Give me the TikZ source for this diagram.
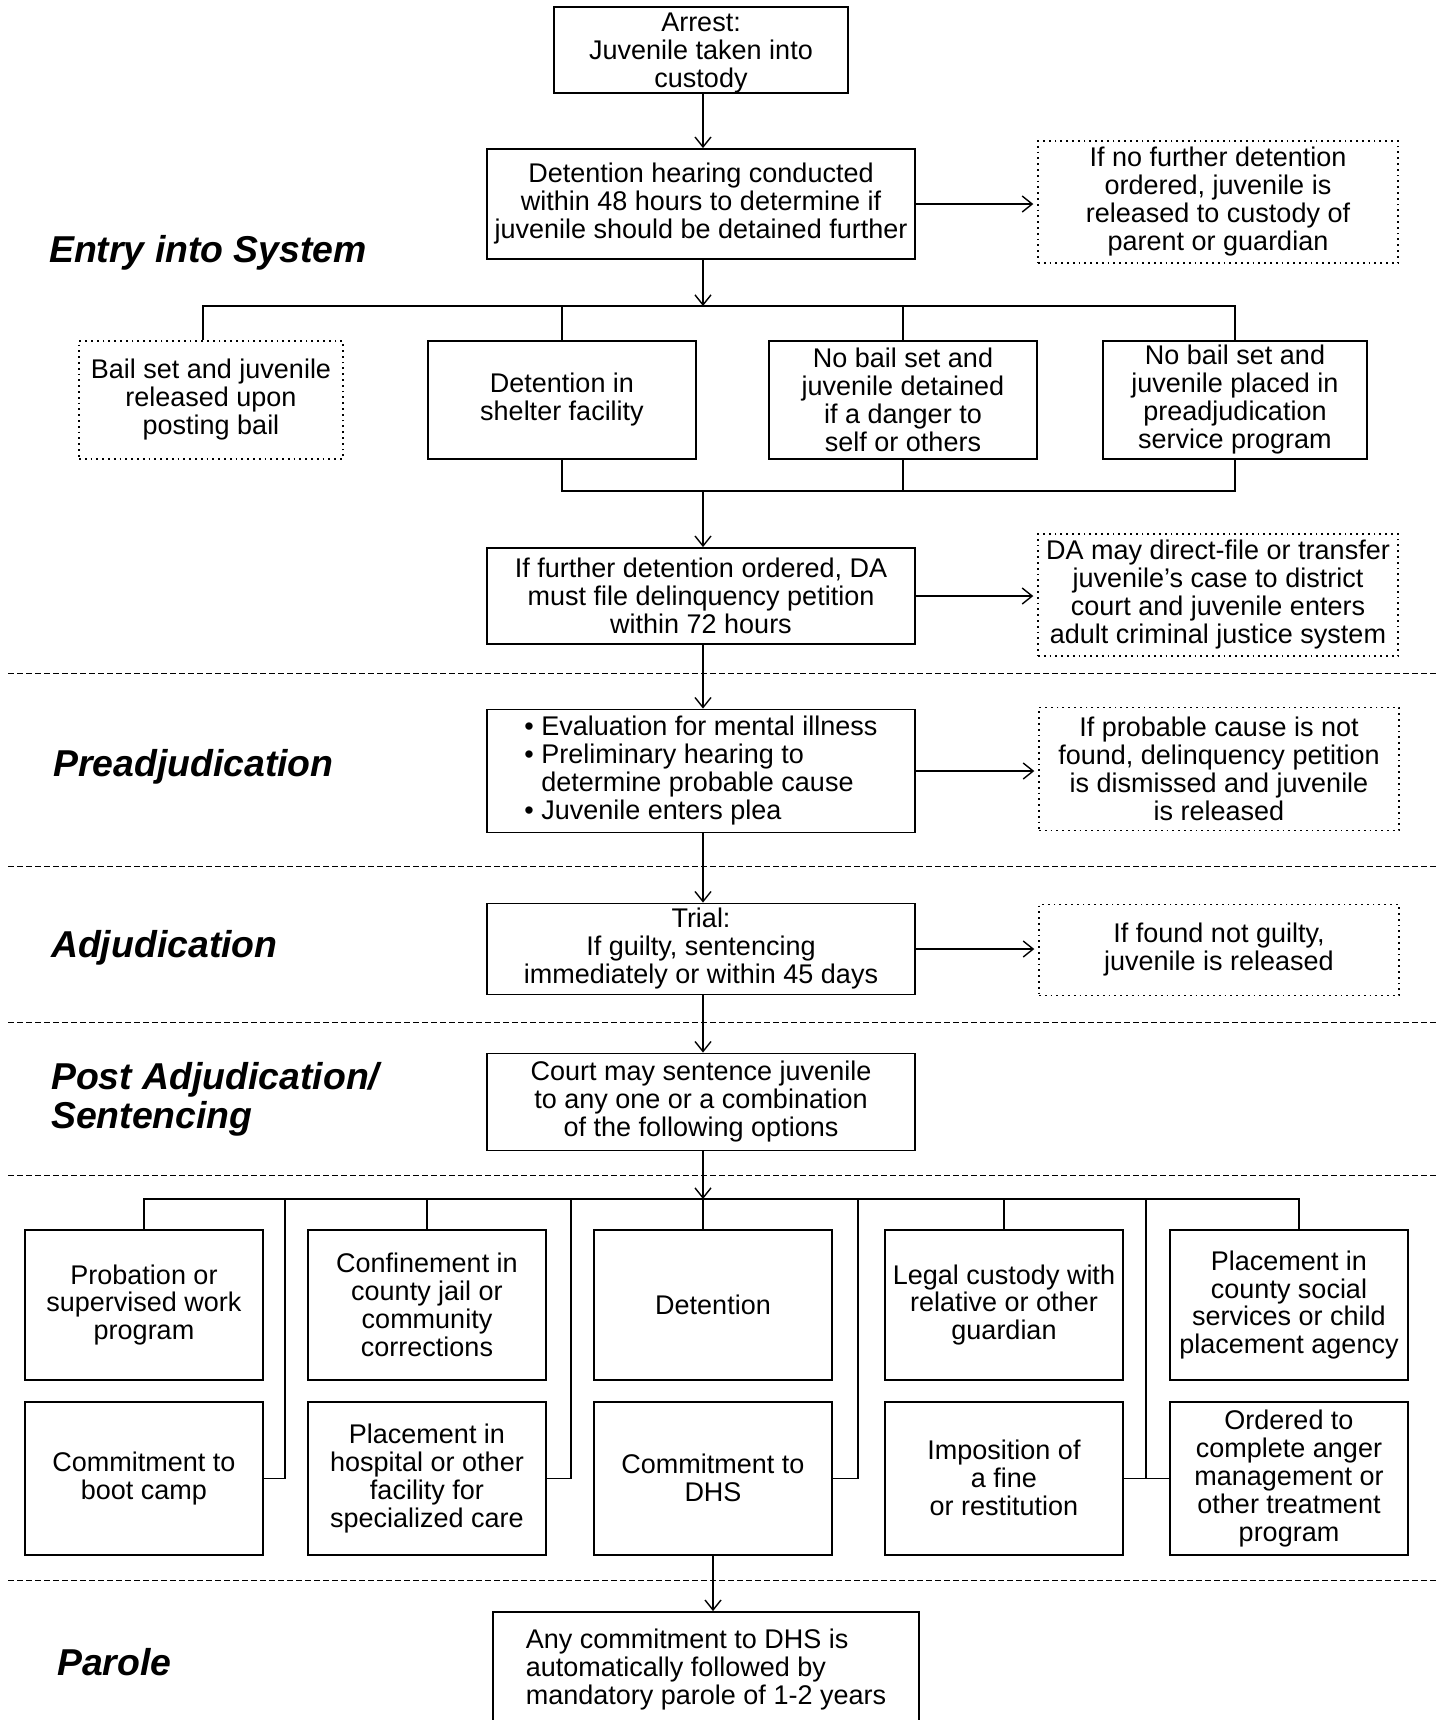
\documentclass[tikz,border=0pt]{standalone}
\usepackage{fontspec}
\setmainfont{Liberation Sans}
\usetikzlibrary{arrows.meta,positioning}

\begin{document}
\begin{tikzpicture}[x=0.5pt,y=-0.5pt,>={Straight Barb[length=5pt,width=8pt]},
  box/.style={draw,line width=0.9pt,align=center,inner sep=1pt,font=\fontsize{13.5}{14}\selectfont},
  mainbox/.style={box,minimum width=214pt},
  sidebox/.style={box,dotted,line width=0.7pt,minimum width=180pt},
  optbox/.style={box,minimum width=119pt},
  phase/.style={anchor=west,align=left,font=\fontsize{18.7}{19.5}\selectfont\bfseries\itshape},
  wire/.style={line width=0.7pt},
  phaseline/.style={line width=0.5pt,dash pattern=on 3pt off 1.5pt}]
 \useasboundingbox (0,0) rectangle (1443,1720);

 % phase labels and separators
 \node[phase] (l_entry) at (42,253) {Entry into System};
 \node[phase] (l_pre) at (46,767) {Preadjudication};
 \node[phase] (l_adj) at (44,948) {Adjudication};
 \node[phase] (l_post) at (44,1099) {Post Adjudication/\\Sentencing};
 \node[phase] (l_parole) at (50,1662) {Parole};
 \foreach \y in {673,866,1022,1175,1580}
  \draw[phaseline] (8,\y) -- (1437,\y);

 % entry into system
 \node[box,minimum width=147pt,minimum height=43pt,text depth=0pt] (b_arrest) at (701,50) {Arrest:\\Juvenile taken into\\custody};
 \node[mainbox,minimum height=55pt] (b_hear) at (701,204) {Detention hearing conducted\\within 48 hours to determine if\\juvenile should be detained further};
 \node[sidebox,minimum height=61pt] (b_free) at (1218,202) {If no further detention\\ordered, juvenile is\\released to custody of\\parent or guardian};
 \node[sidebox,minimum width=132pt,minimum height=59pt] (b_bail) at (211,400) {Bail set and juvenile\\released upon\\posting bail};
 \node[box,minimum width=134pt,minimum height=59pt] (b_shelter) at (562,400) {Detention in\\shelter facility};
 \node[box,minimum width=134pt,minimum height=59pt] (b_danger) at (903,400) {No bail set and\\juvenile detained\\if a danger to\\self or others};
 \node[box,minimum width=132pt,minimum height=59pt] (b_prog) at (1235,400) {No bail set and\\juvenile placed in\\preadjudication\\service program};
 \node[mainbox,minimum height=48pt] (b_petition) at (701,596) {If further detention ordered, DA\\must file delinquency petition\\within 72 hours};
 \node[sidebox,minimum height=61pt] (b_transfer) at (1218,595) {DA may direct-file or transfer\\juvenile's case to district\\court and juvenile enters\\adult criminal justice system};

 % preadjudication
 \node[mainbox,minimum height=61.5pt,align=left] (b_preadj) at (701,771) {\textbullet\ Evaluation for mental illness\\\textbullet\ Preliminary hearing to\\\phantom{\textbullet\ }determine probable cause\\\textbullet\ Juvenile enters plea};
 \node[sidebox,minimum height=61.5pt] (b_dismiss) at (1219,769) {If probable cause is not\\found, delinquency petition\\is dismissed and juvenile\\is released};

 % adjudication
 \node[mainbox,minimum height=45.5pt] (b_trial) at (701,949) {Trial:\\If guilty, sentencing\\immediately or within 45 days};
 \node[sidebox,minimum height=45.5pt] (b_notguilty) at (1219,950) {If found not guilty,\\juvenile is released};

 % sentencing
 \node[mainbox,minimum height=48.5pt] (b_court) at (701,1102) {Court may sentence juvenile\\to any one or a combination\\of the following options};
 \node[optbox,minimum height=75pt] (g11) at (144,1305) {Probation or\\supervised work\\program};
 \node[optbox,minimum height=75pt] (g12) at (427,1305) {Confinement in\\county jail or\\community\\corrections};
 \node[optbox,minimum height=75pt] (g13) at (713,1305) {Detention};
 \node[optbox,minimum height=75pt] (g14) at (1004,1305) {Legal custody with\\relative or other\\guardian};
 \node[optbox,minimum height=75pt] (g15) at (1289,1305) {Placement in\\county social\\services or child\\placement agency};
 \node[optbox,minimum height=76.5pt,below=10pt of g11] (g21) {Commitment to\\boot camp};
 \node[optbox,minimum height=76.5pt,below=10pt of g12] (g22) {Placement in\\hospital or other\\facility for\\specialized care};
 \node[optbox,minimum height=76.5pt,below=10pt of g13] (g23) {Commitment to\\DHS};
 \node[optbox,minimum height=76.5pt,below=10pt of g14] (g24) {Imposition of\\a fine\\or restitution};
 \node[optbox,minimum height=76.5pt,below=10pt of g15] (g25) {Ordered to\\complete anger\\management or\\other treatment\\program};

 % parole
 \node[box,minimum width=213pt,minimum height=57pt,align=left] (b_parole) at (706,1669) {Any commitment to DHS is\\automatically followed by\\mandatory parole of 1-2 years};

 % connectors
 \coordinate (br) at (703,306);
 \coordinate (mg) at (703,491);
 \coordinate (sp) at (703,1199);
 \coordinate (v1) at (285,1199);
 \coordinate (v2) at (571,1199);
 \coordinate (v3) at (858,1199);
 \coordinate (v4) at (1146,1199);

 \path[->,wire]
  (b_arrest.south -| br) edge (b_hear.north -| br)
  (b_hear.south -| br) edge (br)
  (mg) edge (b_petition.north -| mg)
  (b_petition.south -| mg) edge (b_preadj.north -| mg)
  (b_preadj.south -| mg) edge (b_trial.north -| mg)
  (b_trial.south -| mg) edge (b_court.north -| mg)
  (b_court.south -| sp) edge (sp)
  (g23) edge (g23.south |- b_parole.north)
  (b_hear.east) edge[shorten >=2pt] (b_free.west |- b_hear.east)
  (b_petition.east) edge[shorten >=2pt] (b_transfer.west |- b_petition.east)
  (b_preadj.east) edge[shorten >=2pt] (b_dismiss.west |- b_preadj.east)
  (b_trial.east) edge[shorten >=2pt] (b_notguilty.west |- b_trial.east);

 \draw[wire] ([xshift=-4pt]b_bail.north) |- (br) -| (b_prog.north);
 \draw[wire] (b_shelter.north) -- (b_shelter.north |- br);
 \draw[wire] (b_danger.north) -- (b_danger.north |- br);
 \draw[wire] (b_shelter.south) |- (mg) -| (b_prog.south);
 \draw[wire] (b_danger.south) -- (b_danger.south |- mg);

 \draw[wire] (g11.north) |- (sp) -| ([xshift=5pt]g15.north);
 \draw[wire] (sp) -- (sp |- g13.north);
 \draw[wire] (g12.north) -- (g12.north |- sp);
 \draw[wire] (g14.north) -- (g14.north |- sp);
 \draw[wire] (v1) |- (g21.east);
 \draw[wire] (v2) |- (g22.east);
 \draw[wire] (v3) |- (g23.east);
 \draw[wire] (v4) |- (g24.east);
 \draw[wire] (v4 |- g25.west) -- (g25.west);
\end{tikzpicture}
\end{document}
